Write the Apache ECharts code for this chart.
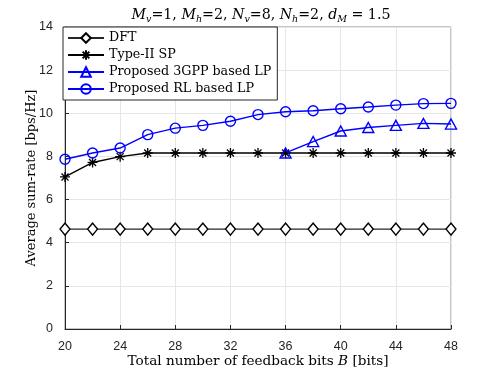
<!DOCTYPE html>
<html>
<head>
<meta charset="utf-8">
<script src="https://cdn.jsdelivr.net/npm/echarts@6/dist/echarts.min.js"></script>
<style>
  html, body { margin: 0; padding: 0; background: #fff; }
  #chart { width: 498px; height: 374px; }
</style>
</head>
<body>
<div id="chart"></div>
<script>
    // feedback bits on the x axis
    var bits = [20, 22, 24, 26, 28, 30, 32, 34, 36, 38, 40, 42, 44, 46, 48];
    var dft = [4.63, 4.63, 4.63, 4.63, 4.63, 4.63, 4.63, 4.63, 4.63, 4.63, 4.63, 4.63, 4.63, 4.63, 4.63];
    var typeII = [7.05, 7.72, 7.99, 8.16, 8.16, 8.16, 8.16, 8.16, 8.16, 8.16, 8.16, 8.16, 8.16, 8.16, 8.16];
    var lp3gpp = [null, null, null, null, null, null, null, null, 8.16, 8.69, 9.18, 9.34, 9.44, 9.53, 9.5];
    var lpRL = [7.87, 8.16, 8.39, 9.01, 9.31, 9.44, 9.63, 9.94, 10.07, 10.12, 10.21, 10.29, 10.38, 10.45, 10.46];
    var names = ['DFT', 'Type-II SP', 'Proposed 3GPP based LP', 'Proposed RL based LP'];

    var serif = '"DejaVu Serif", "Liberation Serif", serif';
    var sans = '"Liberation Sans", Arial, sans-serif';
    var starPath = 'path://M0,-10L0,10M-10,0L10,0M-7,-7L7,7M-7,7L7,-7';

    function pairs(ys) {
        var out = [];
        for (var i = 0; i < bits.length; i++) {
            if (ys[i] !== null) out.push([bits[i], ys[i]]);
        }
        return out;
    }

    var chart = echarts.init(document.getElementById('chart'));
    var option = {
        backgroundColor: '#fff',
        animation: false,
        title: {
            text: '{i|M}{s|v}{n|=1, }{i|M}{s|h}{n|=2, }{i|N}{s|v}{n|=8, }{i|N}{s|h}{n|=2, }{i|d}{s|M}{n| = 1.5}',
            left: 256,
            textAlign: 'center',
            top: 1,
            textStyle: {
                fontWeight: 'normal',
                rich: {
                    i: { fontFamily: serif, fontStyle: 'italic', fontWeight: 'normal', fontSize: 14.2, color: '#000', lineHeight: 19, verticalAlign: 'middle' },
                    n: { fontFamily: serif, fontWeight: 'normal', fontSize: 14.2, color: '#000', lineHeight: 19, verticalAlign: 'middle' },
                    s: { fontFamily: serif, fontStyle: 'italic', fontWeight: 'normal', fontSize: 9.5, color: '#000', lineHeight: 10, verticalAlign: 'bottom' }
                }
            }
        },
        legend: {
            data: names,
            orient: 'vertical',
            left: 63,
            top: 27,
            padding: [3, 6, 3, 4],
            itemWidth: 36,
            itemHeight: 12,
            itemGap: 1,
            backgroundColor: '#fff',
            borderColor: '#262626',
            borderWidth: 1,
            borderRadius: 0,
            textStyle: { fontFamily: serif, fontSize: 12.7, color: '#000', lineHeight: 16 }
        },
        grid: {
            left: 65,
            right: 47,
            top: 27,
            bottom: 45,
            show: true,
            borderColor: '#8c8c8c',
            borderWidth: 1
        },
        xAxis: {
            type: 'value',
            min: 20,
            max: 48,
            interval: 4,
            name: '{n|Total number of feedback bits }{i|B}{n| [bits]}',
            nameLocation: 'middle',
            nameGap: 25,
            nameMoveOverlap: false,
            nameTextStyle: {
                rich: {
                    n: { fontFamily: serif, fontSize: 13.6, color: '#000' },
                    i: { fontFamily: serif, fontStyle: 'italic', fontSize: 13.6, color: '#000' }
                }
            },
            axisLine: { lineStyle: { color: '#262626', width: 1 } },
            axisTick: { inside: true, length: 4, lineStyle: { color: '#262626' } },
            axisLabel: { fontFamily: sans, fontSize: 12.5, color: '#262626', margin: 11 },
            splitLine: { show: true, lineStyle: { color: '#e6e6e6', width: 1 } }
        },
        yAxis: {
            type: 'value',
            min: 0,
            max: 14,
            interval: 2,
            name: 'Average sum-rate [bps/Hz]',
            nameLocation: 'middle',
            nameGap: 27,
            nameMoveOverlap: false,
            nameTextStyle: { fontFamily: serif, fontSize: 13, color: '#000' },
            axisLine: { show: true, lineStyle: { color: '#262626', width: 1 } },
            axisTick: { show: true, inside: true, length: 4, lineStyle: { color: '#262626' } },
            axisLabel: { fontFamily: sans, fontSize: 12.5, color: '#262626', margin: 12 },
            splitLine: { show: true, lineStyle: { color: '#e6e6e6', width: 1 } }
        },
        series: [
            {
                name: names[0],
                type: 'line',
                data: pairs(dft),
                symbol: 'diamond',
                symbolSize: [10, 12],
                color: '#000',
                lineStyle: { color: '#262626', width: 1.4 },
                itemStyle: { color: '#fff', borderColor: '#000', borderWidth: 1.3 }
            },
            {
                name: names[1],
                type: 'line',
                data: pairs(typeII),
                symbol: starPath,
                symbolSize: 10,
                symbolKeepAspect: true,
                color: '#000',
                lineStyle: { color: '#000', width: 1.4 },
                itemStyle: { color: '#000', borderColor: '#000', borderWidth: 1.3 }
            },
            {
                name: names[2],
                type: 'line',
                data: pairs(lp3gpp),
                symbol: 'triangle',
                symbolSize: [11, 10],
                color: '#0000ff',
                lineStyle: { color: '#0000ff', width: 1.4 },
                itemStyle: { color: 'rgba(255,255,255,0)', borderColor: '#0000ff', borderWidth: 1.4 }
            },
            {
                name: names[3],
                type: 'line',
                data: pairs(lpRL),
                symbol: 'circle',
                symbolSize: 10,
                color: '#0000ff',
                lineStyle: { color: '#0000ff', width: 1.4 },
                itemStyle: { color: 'rgba(255,255,255,0)', borderColor: '#0000ff', borderWidth: 1.4 }
            }
        ]
    };
    chart.setOption(option);
</script>
</body>
</html>
